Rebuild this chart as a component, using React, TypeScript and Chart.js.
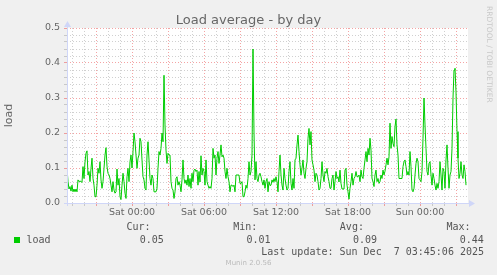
import { useEffect, useRef } from "react";
import { Chart, registerables } from "chart.js";

Chart.register(...registerables);

// 5-minute samples of the load average, left to right
const loadValues: number[] = [
  0.10, 0.061, 0.04, 0.047, 0.034, 0.051, 0.032, 0.04, 0.032, 0.04,
  0.032, 0.066, 0.061, 0.063, 0.061, 0.059, 0.104, 0.07, 0.118, 0.142,
  0.149, 0.08, 0.09, 0.061, 0.099, 0.128, 0.07, 0.051, 0.018, 0.018,
  0.051, 0.099, 0.085, 0.118, 0.066, 0.042, 0.061, 0.099, 0.137, 0.158,
  0.104, 0.085, 0.08, 0.07, 0.051, 0.032, 0.061, 0.037, 0.028, 0.032,
  0.097, 0.051, 0.07, 0.018, 0.01, 0.051, 0.085, 0.061, 0.028, 0.013,
  0.075, 0.099, 0.061, 0.118, 0.137, 0.1, 0.147, 0.2, 0.175, 0.137,
  0.099, 0.128, 0.137, 0.185, 0.175, 0.123, 0.075, 0.066, 0.042, 0.037,
  0.137, 0.175, 0.123, 0.07, 0.051, 0.08, 0.07, 0.032, 0.032, 0.032,
  0.042, 0.099, 0.147, 0.137, 0.156, 0.2, 0.175, 0.365, 0.223, 0.151,
  0.113, 0.142, 0.137, 0.137, 0.061, 0.042, 0.037, 0.013, 0.032, 0.07,
  0.075, 0.051, 0.061, 0.051, 0.032, 0.066, 0.123, 0.07, 0.056, 0.066,
  0.051, 0.08, 0.047, 0.07, 0.042, 0.085, 0.061, 0.094, 0.097, 0.09,
  0.094, 0.051, 0.09, 0.06, 0.135, 0.08, 0.099, 0.09, 0.051, 0.123,
  0.061, 0.051, 0.042, 0.047, 0.042, 0.07, 0.156, 0.128, 0.137, 0.08,
  0.128, 0.147, 0.113, 0.137, 0.166, 0.132, 0.137, 0.128, 0.09, 0.07,
  0.099, 0.075, 0.061, 0.032, 0.051, 0.051, 0.047, 0.051, 0.032, 0.08,
  0.08, 0.08, 0.08, 0.056, 0.056, 0.061, 0.018, 0.018, 0.032, 0.051,
  0.042, 0.07, 0.118, 0.08, 0.09, 0.137, 0.44, 0.2, 0.066, 0.118,
  0.07, 0.061, 0.08, 0.085, 0.075, 0.061, 0.051, 0.066, 0.042, 0.061,
  0.07, 0.032, 0.061, 0.05, 0.051, 0.066, 0.059, 0.07, 0.061, 0.075,
  0.061, 0.032, 0.09, 0.137, 0.08, 0.051, 0.037, 0.099, 0.07, 0.051,
  0.037, 0.042, 0.09, 0.118, 0.056, 0.037, 0.07, 0.042, 0.123, 0.128,
  0.166, 0.194, 0.147, 0.109, 0.08, 0.099, 0.123, 0.085, 0.07, 0.099,
  0.118, 0.185, 0.213, 0.166, 0.204, 0.123, 0.109, 0.094, 0.061, 0.085,
  0.08, 0.061, 0.037, 0.042, 0.07, 0.118, 0.08, 0.061, 0.09, 0.085,
  0.099, 0.075, 0.061, 0.042, 0.042, 0.07, 0.08, 0.037, 0.061, 0.09,
  0.07, 0.075, 0.06, 0.094, 0.056, 0.04, 0.04, 0.04, 0.094, 0.099,
  0.051, 0.032, 0.011, 0.042, 0.061, 0.085, 0.051, 0.07, 0.075, 0.09,
  0.075, 0.075, 0.08, 0.061, 0.094, 0.075, 0.07, 0.099, 0.123, 0.147,
  0.118, 0.156, 0.137, 0.185, 0.151, 0.07, 0.061, 0.047, 0.08, 0.094,
  0.061, 0.07, 0.056, 0.061, 0.08, 0.07, 0.094, 0.08, 0.091, 0.109,
  0.128, 0.109, 0.132, 0.228, 0.156, 0.19, 0.17, 0.161, 0.218, 0.24,
  0.166, 0.137, 0.07, 0.07, 0.07, 0.07, 0.104, 0.118, 0.123, 0.104,
  0.08, 0.09, 0.08, 0.147, 0.104, 0.037, 0.032, 0.042, 0.08, 0.113,
  0.128, 0.118, 0.07, 0.066, 0.061, 0.09, 0.185, 0.30, 0.223, 0.156,
  0.09, 0.08, 0.113, 0.118, 0.08, 0.051, 0.085, 0.07, 0.051, 0.037,
  0.056, 0.042, 0.061, 0.118, 0.08, 0.037, 0.099, 0.09, 0.042, 0.123,
  0.166, 0.099, 0.042, 0.08, 0.09, 0.156, 0.30, 0.38, 0.385, 0.318,
  0.204, 0.128, 0.07, 0.085, 0.118, 0.08, 0.07, 0.109, 0.09, 0.051,
];

// time axis in hours relative to Sat 00:00
const firstSampleHour = -65 / 12; // Fri 18:35
const sampleStepHour = 5 / 60;
const axisMaxHour = 28;
const labelHours = [0, 6, 12, 18, 24];
const labelTexts = ["Sat 00:00", "Sat 06:00", "Sat 12:00", "Sat 18:00", "Sun 00:00"];
const yMin = 0;
const yMax = 0.5;

const titleText = "Load average - by day";
const yAxisTitle = "load";
const seriesName = "load";
const statHeaders = ["Cur:", "Min:", "Avg:", "Max:"];
const statValues = ["0.05", "0.01", "0.09", "0.44"];
const lastUpdate = "Last update: Sun Dec  7 03:45:06 2025";
const footerText = "Munin 2.0.56";
const sideText = "RRDTOOL / TOBI OETIKER";

const LINE_COLOR = "#00CC00";
const AXIS_COLOR = "#CFD6F8";
const TEXT_COLOR = "#666666";
const MAJOR_GRID = "rgba(235, 90, 90, 0.55)";
const MINOR_GRID = "rgba(150, 150, 150, 0.45)";

const muninPlugin = {
  id: "muninDecor",
  beforeDraw(chart: any) {
    const { ctx, chartArea: a, width, height } = chart;
    ctx.save();
    ctx.fillStyle = "#F0F0F0";
    ctx.fillRect(0, 0, width, height);
    ctx.fillStyle = "#FFFFFF";
    ctx.fillRect(a.left, a.top, a.right - a.left, a.bottom - a.top);
    ctx.restore();
  },
  afterDraw(chart: any) {
    const { ctx, chartArea: a } = chart;
    ctx.save();
    // axes
    ctx.strokeStyle = AXIS_COLOR;
    ctx.lineWidth = 1;
    ctx.beginPath();
    ctx.moveTo(a.left - 3, a.bottom + 0.5);
    ctx.lineTo(a.right + 2, a.bottom + 0.5);
    ctx.moveTo(a.left + 0.5, a.bottom + 3);
    ctx.lineTo(a.left + 0.5, a.top - 2);
    ctx.stroke();
    ctx.fillStyle = AXIS_COLOR;
    ctx.beginPath();
    ctx.moveTo(a.right + 1, a.bottom - 3);
    ctx.lineTo(a.right + 7, a.bottom + 0.5);
    ctx.lineTo(a.right + 1, a.bottom + 4);
    ctx.closePath();
    ctx.fill();
    ctx.beginPath();
    ctx.moveTo(a.left - 3, a.top - 1);
    ctx.lineTo(a.left + 0.5, a.top - 7);
    ctx.lineTo(a.left + 4, a.top - 1);
    ctx.closePath();
    ctx.fill();

    // side credit
    ctx.save();
    ctx.translate(489, 6);
    ctx.rotate(Math.PI / 2);
    ctx.font = '7.5px "DejaVu Sans"';
    ctx.fillStyle = "#C8C8C8";
    ctx.textAlign = "left";
    ctx.textBaseline = "middle";
    ctx.fillText(sideText, 0, 0);
    ctx.restore();

    // legend
    ctx.font = '10px "DejaVu Sans Mono"';
    ctx.fillStyle = "#555555";
    ctx.textBaseline = "middle";
    const colStep = 106.67;
    ctx.textAlign = "left";
    statHeaders.forEach((h, i) => ctx.fillText(h, 126.5 + i * colStep, 227.5));
    ctx.textAlign = "right";
    statValues.forEach((v, i) => ctx.fillText(v, 163.8 + i * colStep, 240.5));
    ctx.fillText(lastUpdate, 484, 252.5);
    ctx.textAlign = "left";
    ctx.fillText(seriesName, 26.5, 240.5);
    ctx.fillStyle = LINE_COLOR;
    ctx.fillRect(14, 237, 6, 6);

    // footer
    ctx.font = '7px "DejaVu Sans"';
    ctx.fillStyle = "#BBBBBB";
    ctx.textAlign = "center";
    ctx.fillText(footerText, 248.5, 263.5);
    ctx.restore();
  },
};

export default function App() {
  const canvasRef = useRef<HTMLCanvasElement | null>(null);

  useEffect(() => {
    const canvas = canvasRef.current;
    if (!canvas) return;
    Chart.defaults.font.family = '"DejaVu Sans"';

    const points = loadValues.map((v, i) => ({
      x: firstSampleHour + i * sampleStepHour,
      y: v,
    }));

    const chart = new Chart(canvas, {
      type: "line",
      data: {
        datasets: [
          {
            label: seriesName,
            data: points,
            borderColor: LINE_COLOR,
            backgroundColor: LINE_COLOR,
            borderWidth: 1,
            pointRadius: 0,
            tension: 0,
            fill: false,
          },
        ],
      },
      options: {
        animation: false,
        responsive: false,
        events: [],
        layout: { padding: { left: 0, right: 0, top: 0, bottom: 0 } },
        plugins: {
          legend: { display: false },
          tooltip: { enabled: false },
          title: {
            display: true,
            text: titleText,
            color: TEXT_COLOR,
            font: { family: '"DejaVu Sans"', size: 13, weight: "normal", lineHeight: 15 / 13 },
            padding: { top: 13, bottom: 0 },
          },
        },
        scales: {
          x: {
            type: "linear",
            position: "bottom",
            min: firstSampleHour,
            max: axisMaxHour,
            afterFit: (s: any) => {
              s.height = 72;
            },
            border: { display: false, dash: [1, 2] },
            grid: {
              drawTicks: true,
              tickLength: 3,
              color: (c: any) => {
                const v = Math.round(c.tick?.value ?? 0);
                if (v >= axisMaxHour) return "rgba(0,0,0,0)";
                return v % 3 === 0 ? MAJOR_GRID : MINOR_GRID;
              },
            },
            ticks: {
              stepSize: 1,
              includeBounds: false,
              autoSkip: false,
              maxRotation: 0,
              padding: 1,
              color: TEXT_COLOR,
              font: { family: '"DejaVu Sans"', size: 9.5 },
              callback: (value: any) => {
                const idx = labelHours.indexOf(Math.round(Number(value)));
                return idx >= 0 && Math.abs(Number(value) - labelHours[idx]) < 1e-6 ? labelTexts[idx] : "";
              },
            },
          },
          y: {
            type: "linear",
            position: "left",
            min: yMin,
            max: yMax,
            afterFit: (s: any) => {
              s.width = 67;
            },
            border: { display: false, dash: [1, 2] },
            grid: {
              drawTicks: true,
              tickLength: 3,
              color: (c: any) => {
                const v = Math.round((c.tick?.value ?? 0) * 100);
                return v % 10 === 0 ? MAJOR_GRID : MINOR_GRID;
              },
            },
            title: {
              display: true,
              text: yAxisTitle,
              color: TEXT_COLOR,
              font: { family: '"DejaVu Sans"', size: 11 },
              padding: { top: 3, bottom: 0 },
            },
            ticks: {
              stepSize: 0.02,
              autoSkip: false,
              padding: 4,
              color: TEXT_COLOR,
              font: { family: '"DejaVu Sans"', size: 9.5 },
              callback: (value: any) => {
                const v = Math.round(Number(value) * 100);
                return v % 10 === 0 ? (v / 100).toFixed(1) : "";
              },
            },
          },
          yRight: {
            type: "linear",
            position: "right",
            display: true,
            afterFit: (s: any) => {
              s.width = 29;
            },
            border: { display: false },
            grid: { display: false, drawTicks: false },
            ticks: { display: false },
          },
        },
      },
      plugins: [muninPlugin],
    } as any);

    return () => {
      chart.destroy();
    };
  }, []);

  return (
    <div style={{ position: "absolute", left: 0, top: 0, width: 497, height: 275 }}>
      <canvas ref={canvasRef} width={497} height={275} style={{ display: "block" }} />
    </div>
  );
}
